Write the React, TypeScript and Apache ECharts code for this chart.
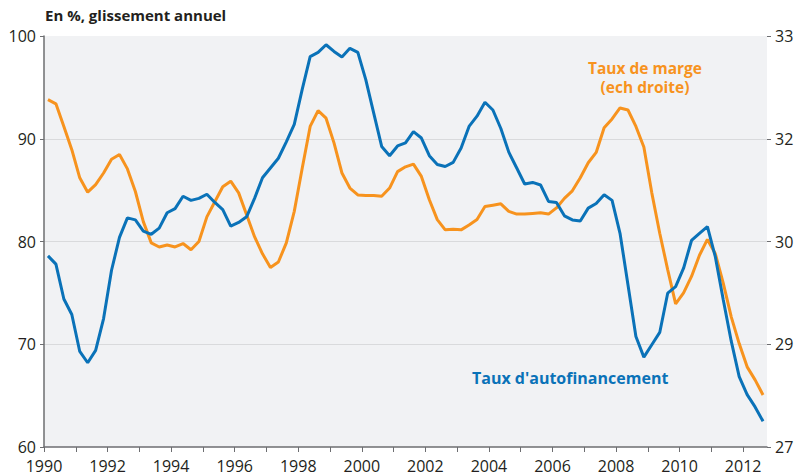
import React, { useEffect, useRef } from "react";
import * as echarts from "echarts";

const startYear = 1990;
const yearTicks = [1990,1991,1992,1993,1994,1995,1996,1997,1998,1999,2000,2001,2002,2003,2004,2005,2006,2007,2008,2009,2010,2011,2012];
const yearLabels = [1990,1992,1994,1996,1998,2000,2002,2004,2006,2008,2010,2012];
const leftTicks = [60, 70, 80, 90, 100];

// Taux d'autofinancement (left axis, %), quarterly 1990T1..2012T3
const autofinancement = [
  78.6, 77.8, 74.4, 72.9, 69.3, 68.2, 69.4, 72.5, 77.2, 80.4,
  82.3, 82.1, 81.0, 80.7, 81.3, 82.8, 83.2, 84.4, 84.0, 84.2,
  84.6, 83.8, 83.1, 81.5, 81.85, 82.4, 84.2, 86.2, 87.15, 88.1,
  89.7, 91.4, 94.8, 98.0, 98.4, 99.15, 98.5, 97.95, 98.8, 98.4,
  95.75, 92.5, 89.25, 88.35, 89.3, 89.6, 90.7, 90.07, 88.35, 87.5,
  87.3, 87.7, 89.1, 91.2, 92.2, 93.55, 92.8, 91.0, 88.7, 87.15,
  85.6, 85.75, 85.5, 83.9, 83.8, 82.5, 82.1, 82.0, 83.25, 83.7,
  84.55, 84.0, 80.8, 75.8, 70.75, 68.75, 69.95, 71.15, 74.97, 75.6,
  77.4, 80.1, 80.8, 81.45, 78.5, 74.3, 70.3, 66.85, 65.1, 63.9,
  62.5
];

// Taux de marge (right axis, %)
const marge = [
  32.07, 32.01, 31.68, 31.34, 30.93, 30.72, 30.83, 31.0, 31.2, 31.27,
  31.06, 30.73, 30.29, 29.98, 29.92, 29.95, 29.92, 29.97, 29.88, 30.0,
  30.36, 30.58, 30.8, 30.88, 30.71, 30.39, 30.07, 29.82, 29.62, 29.7,
  29.98, 30.44, 31.07, 31.68, 31.91, 31.8, 31.44, 31.0, 30.78, 30.68,
  30.67, 30.67, 30.66, 30.78, 31.02, 31.09, 31.13, 30.95, 30.61, 30.32,
  30.17, 30.18, 30.17, 30.24, 30.32, 30.51, 30.53, 30.55, 30.44, 30.4,
  30.4, 30.41, 30.42, 30.4, 30.49, 30.63, 30.74, 30.93, 31.15, 31.3,
  31.66, 31.79, 31.95, 31.92, 31.68, 31.38, 30.71, 30.12, 29.59, 29.09,
  29.25, 29.49, 29.8, 30.03, 29.82, 29.39, 28.9, 28.51, 28.17, 27.98,
  27.76
];

const quarterX = (i: number) => startYear + i / 4 + 0.125;

const BLUE = "#0A72B8";
const ORANGE = "#F7931E";
const FONT = "Open Sans";
const TEXT = "#231F20";
const AXIS = "#6D6E71";

export default function App() {
  const ref = useRef<HTMLDivElement>(null);
  useEffect(() => {
    document.body.style.margin = "0";
    const chart = echarts.init(ref.current!, null, { renderer: "svg" });
    chart.setOption({
      animation: false,
      backgroundColor: "#ffffff",
      textStyle: { fontFamily: FONT },
      grid: {
        left: 44, right: 32, top: 36, bottom: 29,
        show: true, backgroundColor: "#F1F2F4", borderWidth: 0,
      },
      xAxis: {
        type: "value",
        min: 1990,
        max: 2012.75,
        interval: 1,
        axisLine: { show: true, lineStyle: { color: AXIS, width: 1.5 } },
        axisTick: { show: true, length: 5, customValues: yearTicks, lineStyle: { color: AXIS, width: 1 } },
        axisLabel: {
          customValues: yearLabels,
          color: TEXT, fontSize: 16, fontFamily: FONT, margin: 12, lineHeight: 14,
          formatter: (v: number) => String(v),
        },
        splitLine: { show: false },
      },
      yAxis: [
        {
          type: "value",
          min: leftTicks[0],
          max: leftTicks[leftTicks.length - 1],
          interval: 10,
          position: "left",
          axisLine: { show: true, lineStyle: { color: AXIS, width: 1.5 } },
          axisTick: { show: true, length: 4, lineStyle: { color: AXIS } },
          axisLabel: { color: TEXT, fontSize: 16, fontFamily: FONT, margin: 8, lineHeight: 14 },
          splitLine: { show: true, showMaxLine: false, showMinLine: false, lineStyle: { color: "#D9DADC", width: 1 } },
        },
        {
          type: "value",
          min: 27,
          max: 33,
          interval: 1.5,
          position: "right",
          axisLine: { show: false },
          axisTick: { show: true, length: 4, lineStyle: { color: AXIS } },
          axisLabel: {
            color: TEXT, fontSize: 16, fontFamily: FONT, margin: 8, lineHeight: 14,
            formatter: (v: number) => String(Math.round(v)),
          },
          splitLine: { show: false },
        },
      ],
      series: [
        {
          name: "Taux d'autofinancement",
          type: "line",
          yAxisIndex: 0,
          data: autofinancement.map((v, i) => [quarterX(i), v]),
          showSymbol: false,
          lineStyle: { color: BLUE, width: 3 },
          itemStyle: { color: BLUE },
          z: 3,
        },
        {
          name: "Taux de marge",
          type: "line",
          yAxisIndex: 1,
          data: marge.map((v, i) => [quarterX(i), v]),
          showSymbol: false,
          lineStyle: { color: ORANGE, width: 3 },
          itemStyle: { color: ORANGE },
          z: 2,
        },
      ],
      graphic: [
        {
          type: "text", x: 45, y: 15,
          style: { text: "En %, glissement annuel", fontSize: 15, fontWeight: "bold", fill: TEXT, fontFamily: FONT, verticalAlign: "middle" },
        },
        {
          type: "text", x: 645, y: 68,
          style: {
            text: "Taux de marge", fontSize: 15.5, fontWeight: "bold", fill: ORANGE,
            fontFamily: FONT, align: "center", verticalAlign: "middle", lineHeight: 14,
          },
        },
        {
          type: "text", x: 645, y: 87,
          style: {
            text: "(ech droite)", fontSize: 15.5, fontWeight: "bold", fill: ORANGE,
            fontFamily: FONT, align: "center", verticalAlign: "middle", lineHeight: 14,
          },
        },
        {
          type: "text", x: 472, y: 378,
          style: { text: "Taux d'autofinancement", fontSize: 16, fontWeight: "bold", fill: BLUE, fontFamily: FONT, verticalAlign: "middle" },
        },
      ],
    });
    return () => chart.dispose();
  }, []);
  return <div ref={ref} style={{ width: 799, height: 476 }} />;
}
